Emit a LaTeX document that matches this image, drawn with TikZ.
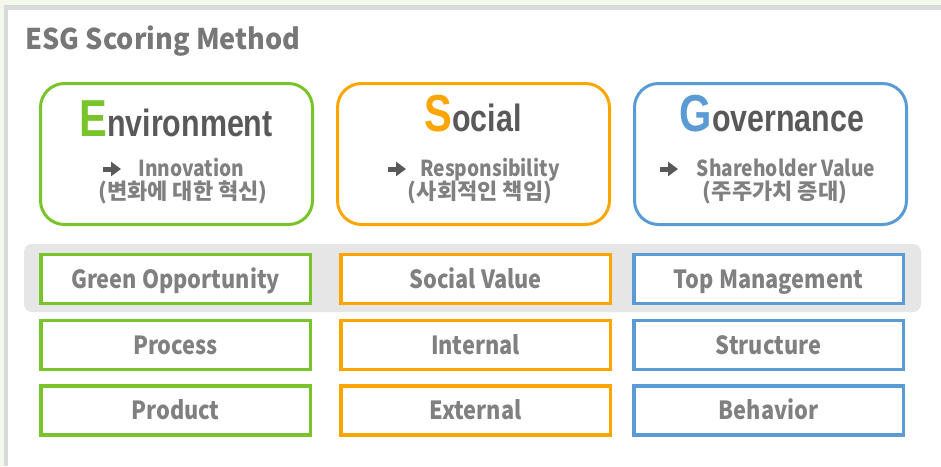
\documentclass[tikz,border=0pt]{standalone}
\usepackage{fontspec}
\setmainfont{Noto Sans CJK KR}
\newfontfamily\narrowfont[FakeStretch=0.87]{Noto Sans CJK KR}
\newfontfamily\titlefont[FakeStretch=0.95]{Noto Sans CJK KR}
\newfontfamily\headfont[FakeStretch=0.8]{Liberation Sans}
\usetikzlibrary{arrows.meta}
\definecolor{bggreen}{HTML}{F2F8EC}
\definecolor{bordergray}{HTML}{D9D9D9}
\definecolor{bandgray}{HTML}{E6E6E6}
\definecolor{envgreen}{HTML}{78C42A}
\definecolor{socorange}{HTML}{FAA500}
\definecolor{govblue}{HTML}{5B9BD5}
\definecolor{txtgray}{HTML}{808080}
\definecolor{headgray}{HTML}{595959}
\definecolor{titlegray}{HTML}{777777}

\begin{document}
\begin{tikzpicture}[x=1pt,y=-1pt]
	\tikzstyle{topbox} = [draw,rounded corners=24pt,line width=3pt,minimum width=272pt,minimum height=141pt]
	\tikzstyle{item} = [draw,fill=white,line width=3.5pt,minimum width=269.5pt,minimum height=49pt,text height=19pt,text depth=1pt,font=\narrowfont\fontsize{25}{25}\selectfont\bfseries,text=txtgray]
	\tikzstyle{head} = [anchor=base,font=\headfont\bfseries,text=headgray]
	\tikzstyle{sub} = [anchor=base,font=\fontsize{22}{22}\selectfont\bfseries,text=txtgray]
	\tikzstyle{pointer} = [draw=headgray,line width=5pt,-{Triangle[width=14pt,length=10pt]}]
	
	\useasboundingbox (0,0) rectangle (941,466);
	\fill[bggreen] (0,0) rectangle (941,466);
	\fill[bordergray] (4,5) rectangle (941,466);
	\fill[white] (8,10) rectangle (941,466);
	\fill[bandgray,rounded corners=8pt] (24,244) rectangle (921,312);
	
	\node[anchor=base west,font=\titlefont\fontsize{28.5}{28.5}\selectfont\bfseries,text=titlegray] (title) at (22,49) {ESG Scoring Method};
	
	\node[topbox,draw=envgreen] (env) at (176.5,154) {};
	\node[topbox,draw=socorange] (soc) at (473.5,154) {};
	\node[topbox,draw=govblue] (gov) at (770.5,154) {};
	
	\node[head] (envH) at (176,136) {\textcolor{envgreen}{\fontsize{52}{52}\selectfont E}\fontsize{38}{38}\selectfont nvironment};
	\node[head] (socH) at (473,131) {\textcolor{socorange}{\fontsize{52}{52}\selectfont S}\fontsize{38}{38}\selectfont ocial};
	\node[head] (govH) at (772,131) {\textcolor{govblue}{\fontsize{52}{52}\selectfont G}\fontsize{38}{38}\selectfont overnance};
	
	\coordinate (envP) at (103,169);
	\coordinate (envQ) at (121,169);
	\coordinate (socP) at (388,169);
	\coordinate (socQ) at (406,169);
	\coordinate (govP) at (660,169);
	\coordinate (govQ) at (678,169);
	\draw[pointer] (envP) -- (envQ);
	\draw[pointer] (socP) -- (socQ);
	\draw[pointer] (govP) -- (govQ);
	
	\node[sub,font=\narrowfont\fontsize{22}{22}\selectfont\bfseries] (envA) at (191.5,176) {Innovation};
	\node[sub] (envK) at (183,199) {(변화에 대한 혁신)};
	\node[sub,font=\narrowfont\fontsize{22}{22}\selectfont\bfseries] (socA) at (490,176) {Responsibility};
	\node[sub] (socK) at (480,199) {(사회적인 책임)};
	\node[sub,font=\narrowfont\fontsize{22}{22}\selectfont\bfseries] (govA) at (786,176) {Shareholder Value};
	\node[sub] (govK) at (775,199) {(주주가치 증대)};
	
	\node[item,draw=envgreen] (env1) at (175.5,279) {Green Opportunity};
	\node[item,draw=envgreen] (env2) at (175.5,345) {Process};
	\node[item,draw=envgreen] (env3) at (175.5,410.5) {Product};
	\node[item,draw=socorange] (soc1) at (475.5,279) {Social Value};
	\node[item,draw=socorange] (soc2) at (475.5,345) {Internal};
	\node[item,draw=socorange] (soc3) at (475.5,410.5) {External};
	\node[item,draw=govblue] (gov1) at (768.5,279) {Top Management};
	\node[item,draw=govblue] (gov2) at (768.5,345) {Structure};
	\node[item,draw=govblue] (gov3) at (768.5,410.5) {Behavior};
\end{tikzpicture}
\end{document}
